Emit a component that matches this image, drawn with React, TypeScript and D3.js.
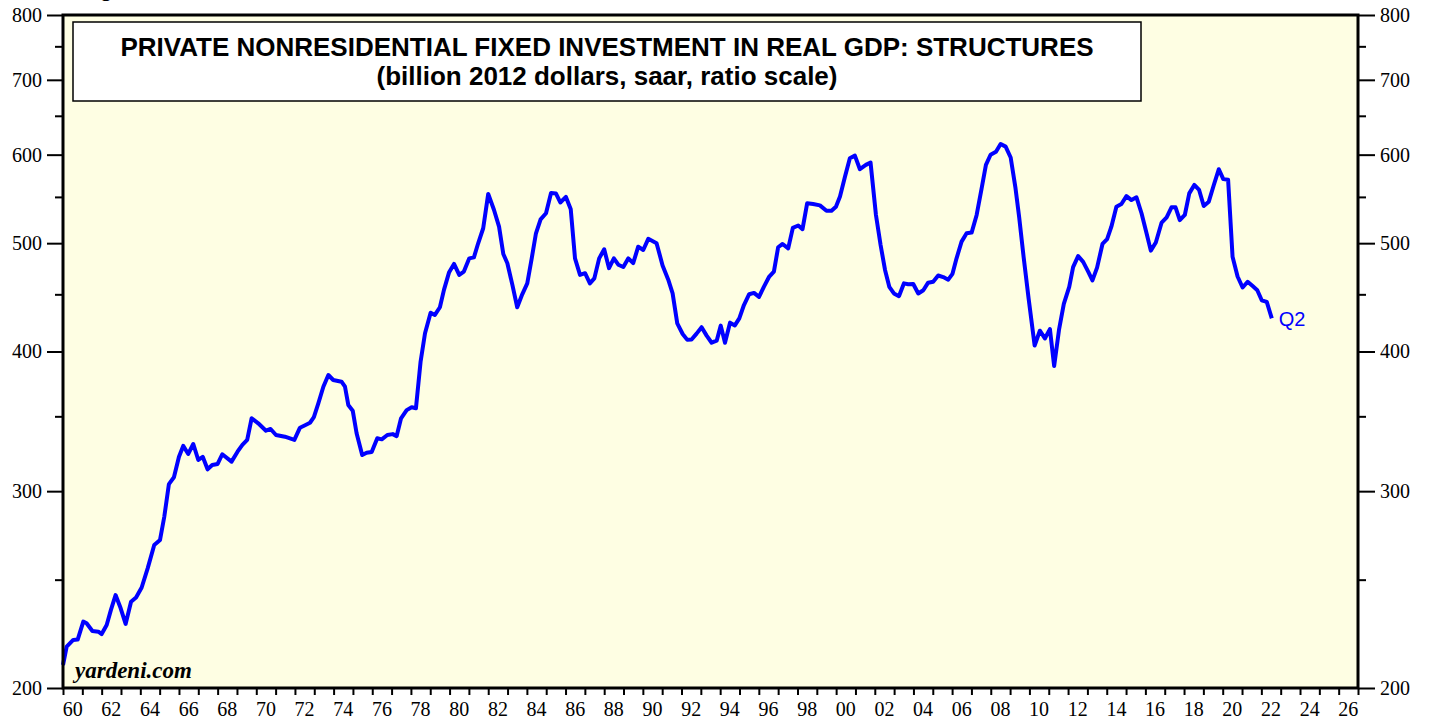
import React, { useEffect, useRef } from "react";
import * as d3 from "d3";

// quarterly readings (fractional year) and values, billion 2012 $
const years = [
  1960.0, 1960.19, 1960.53, 1960.76, 1961.05, 1961.22, 1961.52, 1961.83, 1962.0, 1962.26, 1962.48, 1962.72,
  1962.98, 1963.24, 1963.52, 1963.78, 1964.07, 1964.38, 1964.72, 1965.02, 1965.24, 1965.48, 1965.74, 1966.0,
  1966.22, 1966.48, 1966.74, 1967.0, 1967.23, 1967.48, 1967.72, 1968.0, 1968.24, 1968.72, 1969.03, 1969.28,
  1969.53, 1969.76, 1970.1, 1970.5, 1970.74, 1971.02, 1971.48, 1971.97, 1972.26, 1972.55, 1972.78, 1972.98,
  1973.21, 1973.47, 1973.73, 1973.98, 1974.41, 1974.59, 1974.76, 1974.99, 1975.19, 1975.48, 1975.71, 1975.97,
  1976.26, 1976.49, 1976.78, 1977.06, 1977.26, 1977.49, 1977.78, 1978.04, 1978.26, 1978.5, 1978.73, 1979.02,
  1979.24, 1979.5, 1979.71, 1979.97, 1980.23, 1980.5, 1980.74, 1981.02, 1981.26, 1981.48, 1981.74, 1982.0,
  1982.3, 1982.56, 1982.78, 1982.99, 1983.25, 1983.5, 1983.76, 1984.02, 1984.25, 1984.47, 1984.71, 1984.99,
  1985.25, 1985.5, 1985.73, 1986.02, 1986.27, 1986.49, 1986.75, 1987.01, 1987.26, 1987.49, 1987.74, 1988.0,
  1988.25, 1988.5, 1988.73, 1988.99, 1989.25, 1989.5, 1989.76, 1990.02, 1990.28, 1990.71, 1991.02, 1991.31,
  1991.54, 1991.78, 1992.06, 1992.3, 1992.52, 1992.78, 1993.04, 1993.3, 1993.56, 1993.82, 1994.03, 1994.25,
  1994.51, 1994.76, 1994.99, 1995.23, 1995.5, 1995.75, 1996.01, 1996.26, 1996.54, 1996.78, 1997.0, 1997.23,
  1997.52, 1997.76, 1998.04, 1998.26, 1998.5, 1998.81, 1999.16, 1999.5, 1999.76, 1999.99, 2000.2, 2000.46,
  2000.71, 2000.97, 2001.23, 2001.54, 2001.78, 2002.06, 2002.3, 2002.53, 2002.75, 2002.99, 2003.25, 2003.51,
  2003.73, 2003.99, 2004.25, 2004.51, 2004.76, 2005.02, 2005.28, 2005.54, 2005.8, 2006.02, 2006.23, 2006.49,
  2006.75, 2007.01, 2007.27, 2007.53, 2007.75, 2007.99, 2008.27, 2008.51, 2008.77, 2009.03, 2009.28, 2009.47,
  2009.7, 2009.96, 2010.27, 2010.54, 2010.8, 2011.06, 2011.28, 2011.53, 2011.78, 2012.06, 2012.26, 2012.52,
  2012.78, 2013.04, 2013.26, 2013.5, 2013.78, 2014.02, 2014.24, 2014.5, 2014.76, 2015.02, 2015.28, 2015.54,
  2015.8, 2016.06, 2016.28, 2016.54, 2016.84, 2017.1, 2017.35, 2017.56, 2017.78, 2018.04, 2018.27, 2018.53,
  2018.78, 2019.02, 2019.28, 2019.54, 2019.8, 2020.03, 2020.28, 2020.51, 2020.77, 2021.03, 2021.29, 2021.55,
  2021.79, 2022.02, 2022.28, 2022.54,
];
const values = [
  209.7, 217.8, 220.8, 221, 229.3, 228.5, 224.9, 224.6, 223.5, 227.7, 234.9, 242.2,
  235.8, 228.2, 238.9, 241, 246, 255.9, 268.5, 271.3, 284.6, 304.4, 308.7, 322.1,
  329.3, 323.9, 330.6, 319.9, 322, 313.8, 316.6, 317.3, 323.7, 318.8, 325.4, 330,
  333.4, 348.6, 345, 339.8, 341, 336.8, 335.6, 333.4, 341.9, 343.8, 345.4, 349.4,
  359.5, 372, 381.1, 377.2, 375.9, 372, 358.3, 354.1, 338, 323.2, 324.7, 325.2,
  334.5, 333.8, 336.8, 337.4, 336, 348.6, 354.5, 356.6, 355.9, 391.6, 415.3, 433.3,
  431.3, 438.2, 454.1, 470.6, 479.1, 468.4, 471.6, 484.6, 485.6, 499.9, 515.6, 553.4,
  535.4, 517.3, 489, 479.8, 458.8, 438.2, 450, 460.3, 484.6, 510.3, 525.2, 531.8,
  554.5, 554, 543.7, 550, 536.1, 484.6, 468.4, 470, 460.3, 465, 484.6, 493.7,
  474.9, 484.6, 478.3, 476, 484.6, 479.8, 496.4, 493, 504.5, 500, 477.6, 464,
  450.9, 423.9, 414.7, 409.7, 410, 415, 420.5, 413.3, 407.3, 409, 421.9, 407.3,
  424.5, 422.1, 428.3, 440.2, 450.1, 451.3, 447.6, 457, 466.8, 471.6, 495.8, 499.2,
  494.7, 516, 518.5, 514.6, 542.8, 542, 540.5, 534.5, 534.5, 539, 550.4, 573.5,
  595.6, 598.8, 582.3, 587.5, 590.4, 529.9, 498.1, 473.2, 457, 450.8, 448.3, 460.3,
  459.4, 459.7, 450.8, 453.8, 460.9, 461.8, 467.8, 466.3, 463.8, 469.4, 484.6, 501.6,
  510.3, 511, 529.9, 559.9, 587.5, 599.9, 603.6, 613.3, 610, 596.5, 560, 527.4,
  486, 446, 405, 417.5, 410.9, 418.9, 388.2, 418.2, 441.2, 457, 476, 486.9,
  481.1, 471.6, 463.1, 475.4, 499.2, 504.2, 517.3, 539, 542, 550.9, 546.4, 549.5,
  531.8, 510.3, 492.4, 500.7, 521.7, 527.4, 538.3, 538.3, 524.3, 529.9, 554, 563.7,
  557.9, 539.8, 544.6, 563.7, 582.3, 570.5, 569.7, 486.2, 466.8, 456.4, 461.8, 457.7,
  453.8, 444.5, 443, 428.3,
];
const majorTicks = [200, 300, 400, 500, 600, 700, 800];
const minorTicks = [250, 350, 450, 550, 650, 750];
const yearLabels = d3.range(1960, 2027, 2);
const titleLines = [
  "PRIVATE NONRESIDENTIAL FIXED INVESTMENT IN REAL GDP: STRUCTURES",
  "(billion 2012 dollars, saar, ratio scale)",
];
const lastLabel = "Q2";

export default function App() {
  const ref = useRef<SVGSVGElement>(null);

  useEffect(() => {
    const width = 1431;
    const height = 721;
    const m = { left: 63, right: 73, top: 15, bottom: 33 };
    const svg = d3.select(ref.current);
    svg.selectAll("*").remove();

    const x = d3.scaleLinear().domain([1960, 2027]).range([m.left, width - m.right]);
    const y = d3.scaleLog().domain([200, 800]).range([height - m.bottom, m.top]);
    const serif = "'Liberation Serif', 'Times New Roman', serif";
    const sans = "'Liberation Sans', Arial, sans-serif";

    // heading cut off at the top edge, as in the source image
    svg.append("text").attr("x", 80).attr("y", -4).text("Figure")
      .style("font-family", sans).style("font-weight", "bold").style("font-size", "22px");

    svg.append("rect")
      .attr("x", m.left).attr("y", m.top)
      .attr("width", x.range()[1] - m.left).attr("height", y.range()[0] - m.top)
      .attr("fill", "#fefee3");

    // left / right axes
    const axL = svg.append("g").attr("transform", `translate(${m.left},0)`)
      .call(d3.axisLeft(y).tickValues(majorTicks).tickSize(16).tickFormat(d3.format("d")));
    const axR = svg.append("g").attr("transform", `translate(${x.range()[1]},0)`)
      .call(d3.axisRight(y).tickValues(majorTicks).tickSize(17).tickFormat(d3.format("d")));
    svg.append("g").attr("transform", `translate(${m.left},0)`)
      .call(d3.axisLeft(y).tickValues(minorTicks).tickSize(8).tickFormat(() => ""));
    svg.append("g").attr("transform", `translate(${x.range()[1]},0)`)
      .call(d3.axisRight(y).tickValues(minorTicks).tickSize(8).tickFormat(() => ""));

    // bottom axis: tick every year, labels mid-year
    const axB = svg.append("g").attr("transform", `translate(0,${y.range()[0]})`)
      .call(d3.axisBottom(x).tickValues(d3.range(1960, 2028)).tickSize(7).tickFormat(() => ""));

    svg.selectAll(".domain").remove();
    svg.selectAll(".tick line").attr("stroke", "#000").attr("stroke-width", 2);
    [axL, axR].forEach((g) =>
      g.selectAll("text").style("font-family", serif).style("font-size", "20px").attr("fill", "#000"));
    axL.selectAll("text").attr("x", -21);
    axR.selectAll("text").attr("x", 22);
    axB.selectAll("text").remove();

    svg.append("g").selectAll("text").data(yearLabels).enter().append("text")
      .attr("x", (d) => x(d + 0.5))
      .attr("y", 716)
      .attr("text-anchor", "middle")
      .style("font-family", serif).style("font-size", "20px")
      .text((d) => String(d % 100).padStart(2, "0"));

    // series
    const pts = years.map((yr, i) => [yr, values[i]] as [number, number]);
    const line = d3.line<[number, number]>().x((d) => x(d[0])).y((d) => y(d[1]));
    svg.append("path").datum(pts)
      .attr("d", line)
      .attr("fill", "none").attr("stroke", "#0000ff").attr("stroke-width", 4)
      .attr("stroke-linejoin", "round");

    const last = pts[pts.length - 1];
    svg.append("text").attr("x", x(last[0]) + 7).attr("y", y(last[1]) + 8)
      .text(lastLabel).attr("fill", "#0000ff")
      .style("font-family", sans).style("font-size", "20px");

    // title box
    svg.append("rect").attr("x", 73).attr("y", 22).attr("width", 1068).attr("height", 79)
      .attr("fill", "#fff").attr("stroke", "#000").attr("stroke-width", 1.5);
    svg.append("g").selectAll("text").data(titleLines).enter().append("text")
      .attr("x", 607).attr("y", (d, i) => 56 + i * 29)
      .attr("text-anchor", "middle")
      .style("font-family", sans).style("font-weight", "bold").style("font-size", "26px")
      .text((d) => d);

    svg.append("text").attr("x", 75).attr("y", 678).text("yardeni.com")
      .style("font-family", serif).style("font-weight", "bold").style("font-style", "italic")
      .style("font-size", "23px");

    // frame
    svg.append("rect")
      .attr("x", m.left).attr("y", m.top)
      .attr("width", x.range()[1] - m.left).attr("height", y.range()[0] - m.top)
      .attr("fill", "none").attr("stroke", "#000").attr("stroke-width", 3);
  }, []);

  return (
    <svg ref={ref} width={1431} height={721}
      style={{ position: "absolute", left: 0, top: 0, background: "#fff" }} />
  );
}
